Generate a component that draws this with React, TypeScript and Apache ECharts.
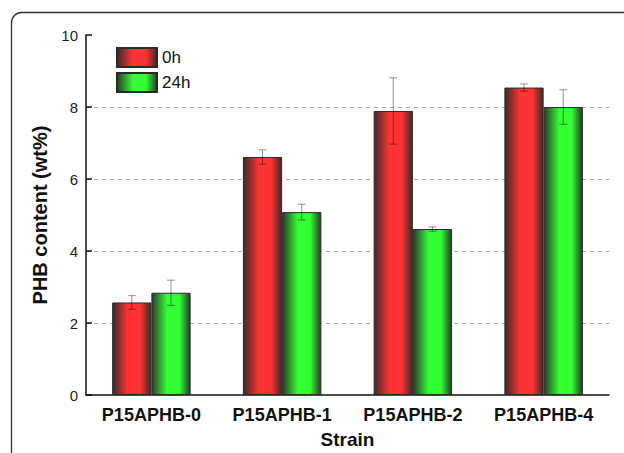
import React, { useEffect, useRef } from "react";
import * as echarts from "echarts";

const categories = ["P15APHB-0", "P15APHB-1", "P15APHB-2", "P15APHB-4"];
const seriesNames = ["0h", "24h"];
const values0h = [2.57, 6.61, 7.89, 8.54];
const errors0h = [0.19, 0.2, 0.92, 0.1];
const values24h = [2.84, 5.08, 4.61, 8.0];
const errors24h = [0.35, 0.22, 0.06, 0.48];
const yTicks = { min: 0, max: 10, interval: 2 };

const FONT = "Liberation Sans, Arial, sans-serif";

function grad(dark: string, bright: string) {
  return new echarts.graphic.LinearGradient(0, 0, 1, 0, [
    { offset: 0, color: dark },
    { offset: 0.4, color: bright },
    { offset: 0.72, color: bright },
    { offset: 1, color: dark },
  ]);
}

export default function App() {
  const ref = useRef<HTMLDivElement>(null);
  useEffect(() => {
    document.body.style.margin = "0";
    if (!ref.current) return;
    const chart = echarts.init(ref.current, undefined, { renderer: "svg" });
    const redGrad = grad("#3c2a2a", "#ff3333");
    const greenGrad = grad("#2a3c2a", "#33ff33");

    const errData = (vals: number[], errs: number[], side: number) =>
      vals.map((v, i) => [i, v - errs[i], v + errs[i], side]);

    const renderErr = (params: any, api: any) => {
      const idx = api.value(0);
      const lo = api.value(1);
      const hi = api.value(2);
      const side = api.value(3);
      const band = api.size([1, 0])[0];
      const pLo = api.coord([idx, lo]);
      const pHi = api.coord([idx, hi]);
      const x = pLo[0] + side * band * 0.15;
      const cap = 4;
      const style = { stroke: "rgba(0,0,0,0.42)", lineWidth: 1 };
      return {
        type: "group",
        children: [
          { type: "line", shape: { x1: x, y1: pLo[1], x2: x, y2: pHi[1] }, style },
          { type: "line", shape: { x1: x - cap, y1: pLo[1], x2: x + cap, y2: pLo[1] }, style },
          { type: "line", shape: { x1: x - cap, y1: pHi[1], x2: x + cap, y2: pHi[1] }, style },
        ],
      };
    };

    chart.setOption({
      animation: false,
      backgroundColor: "#ffffff",
      textStyle: { fontFamily: FONT },
      graphic: [
        {
          type: "rect",
          shape: { x: 11.5, y: 12.5, width: 700, height: 600, r: 10 },
          style: { fill: "none", stroke: "#333", lineWidth: 1.3 },
          silent: true,
          z: -1,
        },
      ],
      grid: {
        left: 86,
        right: 15,
        top: 35,
        bottom: 58,
        containLabel: false,
        outerBoundsMode: "none",
      },
      legend: {
        orient: "vertical",
        left: 116,
        top: 47,
        padding: 0,
        itemWidth: 40,
        itemHeight: 19,
        itemGap: 4,
        data: seriesNames,
        textStyle: { fontSize: 17, color: "#111", fontFamily: FONT },
        icon: "rect",
      },
      xAxis: {
        type: "category",
        data: categories,
        name: "Strain",
        nameLocation: "middle",
        nameGap: 35,
        nameTextStyle: { fontSize: 19, fontWeight: "bold", color: "#111", fontFamily: FONT },
        axisLine: { lineStyle: { color: "#111", width: 1.5 } },
        axisTick: { show: false },
        axisLabel: { interval: 0, fontSize: 18, fontWeight: "bold", color: "#111", margin: 11, fontFamily: FONT },
      },
      yAxis: {
        type: "value",
        min: yTicks.min,
        max: yTicks.max,
        interval: yTicks.interval,
        name: "PHB content (wt%)",
        nameLocation: "middle",
        nameGap: 27,
        nameTextStyle: { fontSize: 20, fontWeight: "bold", color: "#111", fontFamily: FONT },
        axisLine: { show: true, lineStyle: { color: "#111", width: 1.5 } },
        axisTick: { show: true, inside: true, length: 6, lineStyle: { color: "#111", width: 1.5 } },
        axisLabel: { fontSize: 15, color: "#222", margin: 8, fontFamily: FONT },
        splitLine: {
          show: true,
          showMinLine: false,
          showMaxLine: false,
          lineStyle: { color: "#aaa", type: [4, 4], width: 1 },
        },
      },
      series: [
        {
          name: seriesNames[0],
          type: "bar",
          data: values0h,
          barWidth: "30%",
          barGap: "0%",
          itemStyle: { color: redGrad, borderColor: "#2a2a2a", borderWidth: 1 },
        },
        {
          name: seriesNames[1],
          type: "bar",
          data: values24h,
          barWidth: "30%",
          barGap: "0%",
          itemStyle: { color: greenGrad, borderColor: "#2a2a2a", borderWidth: 1 },
        },
        {
          type: "custom",
          renderItem: renderErr,
          data: errData(values0h, errors0h, -1),
          encode: { x: 0, y: [1, 2] },
          z: 10,
          silent: true,
        },
        {
          type: "custom",
          renderItem: renderErr,
          data: errData(values24h, errors24h, 1),
          encode: { x: 0, y: [1, 2] },
          z: 10,
          silent: true,
        },
      ],
    });
    return () => chart.dispose();
  }, []);
  return <div ref={ref} style={{ width: 624, height: 453 }} />;
}
